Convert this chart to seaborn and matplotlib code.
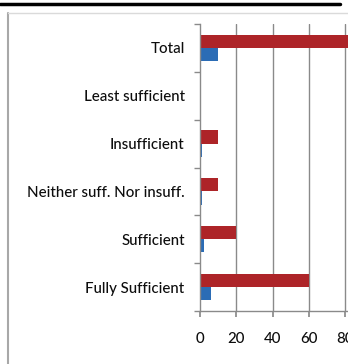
import matplotlib
matplotlib.use("Agg")
import matplotlib.pyplot as plt
from matplotlib.lines import Line2D
import seaborn as sns
import pandas as pd

categories = ["Total", "Least sufficient", "Insufficient",
              "Neither suff. Nor insuff.", "Sufficient", "Fully Sufficient"]
percent = [100, 0, 10, 10, 20, 60]
count = [10, 0, 1, 1, 2, 6]
series_names = ["Percent", "Count"]
x_ticks = [0, 20, 40, 60, 80]

df = pd.DataFrame({
    "category": categories * 2,
    "value": percent + count,
    "series": [series_names[0]] * len(categories) + [series_names[1]] * len(categories),
})

sns.set_theme(style="white")
plt.rcParams["font.family"] = ["Lato", "DejaVu Sans"]

W, H = 348, 364
fig = plt.figure(figsize=(W / 100, H / 100), dpi=100)
fig.patch.set_facecolor("white")
ax = fig.add_axes([200 / W, 1 - 311 / H, (W - 200) / W, (311 - 24) / H])

sns.barplot(data=df, y="category", x="value", hue="series", order=categories,
            hue_order=series_names, palette=["#AD2428", "#2B6CB5"],
            orient="h", width=0.55, dodge=True, legend=False, ax=ax,
            saturation=1, linewidth=0)

ax.set_xlim(0, (W - 200) / 1.8125)
ax.set_ylim(5.5, -0.5)
ax.set_xlabel("")
ax.set_ylabel("")

grid_col = "#8a8a8a"
ax.set_xticks(x_ticks)
ax.set_xticklabels([str(v) for v in x_ticks])
for v in x_ticks[1:]:
    ax.axvline(v, color=grid_col, lw=1, zorder=0)

for s in ["top", "right"]:
    ax.spines[s].set_visible(False)
for s in ["left", "bottom"]:
    ax.spines[s].set_color(grid_col)
    ax.spines[s].set_linewidth(1)

text_col = "#0d0d0d"
ax.set_yticks(range(len(categories)))
ax.set_yticks([i - 0.5 for i in range(len(categories) + 1)], minor=True)
ax.tick_params(axis="y", which="major", length=0, pad=11, labelsize=10.8,
               labelcolor=text_col)
ax.tick_params(axis="y", which="minor", length=4, color=grid_col, direction="out", left=True)
ax.tick_params(axis="x", which="major", length=4, color=grid_col, direction="out",
               bottom=True, pad=11, labelsize=10.8, labelcolor=text_col)
for lbl in ax.get_yticklabels() + ax.get_xticklabels():
    lbl.set_fontweight("medium")

# frame decorations
fig.add_artist(Line2D([0, 340 / W], [1 - 4 / H, 1 - 4 / H], color="black", lw=2.5))
fig.add_artist(Line2D([8 / W, 8 / W], [0, 1 - 13 / H], color="#a8a8a8", lw=1.5))
fig.add_artist(Line2D([8 / W, 1], [1 - 13 / H, 1 - 13 / H], color="#dadada", lw=1))

fig.savefig("out.png", dpi=100, facecolor="white")
